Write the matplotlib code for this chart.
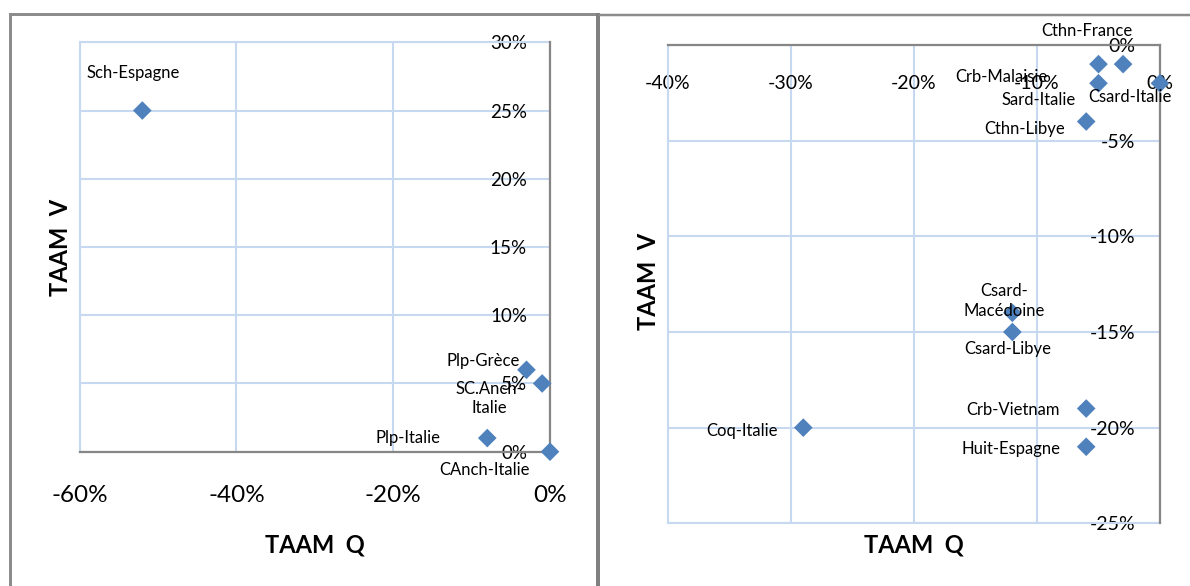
import matplotlib
matplotlib.use('Agg')
import matplotlib.pyplot as plt
from matplotlib.lines import Line2D
from matplotlib.ticker import FixedLocator, FixedFormatter

# ---------------- data ----------------
left_names = ['Sch-Espagne', 'Plp-Grèce', 'SC.Anch-\nItalie', 'Plp-Italie', 'CAnch-Italie']
left_q = [-52, -3, -1, -8, 0]          # TAAM Q (%)
left_v = [25, 6, 5, 1, 0]              # TAAM V (%)
left_xticks = [-60, -40, -20, 0]
left_xlabels = ['-60%', '-40%', '-20%', '0%']
left_yticks = [0, 5, 10, 15, 20, 25, 30]
left_ylabels = ['0%', '5%', '10%', '15%', '20%', '25%', '30%']

right_names = ['Cthn-France', 'Crb-Malaisie', 'Sard-Italie', 'Csard-Italie', 'Cthn-Libye',
               'Csard-\nMacédoine', 'Csard-Libye', 'Crb-Vietnam', 'Huit-Espagne', 'Coq-Italie']
right_q = [-3, -5, -5, 0, -6, -12, -12, -6, -6, -29]
right_v = [-1, -1, -2, -2, -4, -14, -15, -19, -21, -20]
right_xticks = [-40, -30, -20, -10, 0]
right_xlabels = ['-40%', '-30%', '-20%', '-10%', '0%']
right_yticks = [-25, -20, -15, -10, -5, 0]
right_ylabels = ['-25%', '-20%', '-15%', '-10%', '-5%', '0%']

# label offsets (pixels, from the marker; baseline of the last line)
left_offsets = [(-9, 33), (-43, 4), (-53, -30), (-79, -5), (-66, -23)]
right_offsets = [(-36, 28), (-97, -18), (-60, -22), (-30, -19), (-62, -12),
                 (-8, -3), (-5, -22), (-73, -6), (-75, -7), (-61, -8)]

# ---------------- style ----------------
W, H = 1190, 586
FONT = 'Lato'
MARKER_C = '#4F81BD'
GRID_C = '#C6D9F1'
AXIS_C = '#868686'
BORDER_C = '#8C8C8C'
LABEL_FS = 12

plt.rcParams['font.family'] = [FONT, 'DejaVu Sans']

fig = plt.figure(figsize=(W / 100, H / 100), dpi=100)
fig.patch.set_facecolor('white')


def px_axes(x0, y0, x1, y1):
    return fig.add_axes([x0 / W, 1 - y1 / H, (x1 - x0) / W, (y1 - y0) / H])


def style(ax, xlim, ylim, xt, xl, yt, yl, axis_spines, grid_spines):
    ax.set_xlim(*xlim)
    ax.set_ylim(*ylim)
    ax.xaxis.set_major_locator(FixedLocator(xt))
    ax.xaxis.set_major_formatter(FixedFormatter(xl))
    ax.yaxis.set_major_locator(FixedLocator(yt))
    ax.yaxis.set_major_formatter(FixedFormatter(yl))
    ax.grid(True, color=GRID_C, linewidth=1.5, zorder=0)
    ax.set_axisbelow(True)
    for s in axis_spines:
        ax.spines[s].set_color(AXIS_C)
        ax.spines[s].set_linewidth(1.6)
        ax.spines[s].set_zorder(3)
    for s in grid_spines:
        ax.spines[s].set_color(GRID_C)
        ax.spines[s].set_linewidth(1.5)


# ---------------- left chart ----------------
ax1 = px_axes(79.6, 42.3, 550, 451.7)
style(ax1, (-60, 0), (0, 30), left_xticks, left_xlabels, left_yticks, left_ylabels,
      ['right', 'bottom'], ['left', 'top'])
ax1.yaxis.tick_right()
ax1.tick_params(axis='y', length=0, pad=-23 * 0.72, labelsize=13.5, labelright=True, labelleft=False)
ax1.tick_params(axis='x', length=0, pad=33 * 0.72, labelsize=17.5)
for lab in ax1.get_yticklabels():
    lab.set_horizontalalignment('right')
ax1.scatter(left_q, left_v, marker='D', s=9.5 ** 2, color=MARKER_C, edgecolors='none', zorder=4,
            clip_on=False)
for name, q, v, (dx, dy) in zip(left_names, left_q, left_v, left_offsets):
    ax1.annotate(name, (q, v), xytext=(dx, dy), textcoords='offset pixels', ha='center',
                 va='baseline', fontsize=LABEL_FS, zorder=5, annotation_clip=False, linespacing=1.25)
ax1.set_xlabel('TAAM  Q', fontsize=17, fontweight='bold', va='center')
ax1.xaxis.set_label_coords(0.5, (451.7 - 545) / 409.4)
ax1.set_ylabel('TAAM  V', fontsize=17, fontweight='bold', va='center')
ax1.yaxis.set_label_coords((61 - 79.6) / 470.4, 0.5)

# ---------------- right chart ----------------
ax2 = px_axes(668, 45, 1160, 523.3)
style(ax2, (-40, 0), (-25, 0), right_xticks, right_xlabels, right_yticks, right_ylabels,
      ['right', 'top'], ['left', 'bottom'])
ax2.yaxis.tick_right()
ax2.xaxis.tick_top()
ax2.tick_params(axis='y', length=0, pad=-25 * 0.72, labelsize=14, labelright=True, labelleft=False)
ax2.tick_params(axis='x', length=0, pad=-30 * 0.72, labelsize=14, labeltop=True, labelbottom=False)
for lab in ax2.get_yticklabels():
    lab.set_horizontalalignment('right')
for lab in ax2.get_xticklabels():
    lab.set_verticalalignment('top')
ax2.scatter(right_q, right_v, marker='D', s=9.5 ** 2, color=MARKER_C, edgecolors='none', zorder=4,
            clip_on=False)
for name, q, v, (dx, dy) in zip(right_names, right_q, right_v, right_offsets):
    ax2.annotate(name, (q, v), xytext=(dx, dy), textcoords='offset pixels', ha='center',
                 va='baseline', fontsize=LABEL_FS, zorder=5, annotation_clip=False, linespacing=1.3)
ax2.xaxis.set_label_position('bottom')
ax2.set_xlabel('TAAM  Q', fontsize=17, fontweight='bold', va='center')
ax2.xaxis.set_label_coords(0.5, (523.3 - 545) / 478.3)
ax2.set_ylabel('TAAM  V', fontsize=17, fontweight='bold', va='center')
ax2.yaxis.set_label_coords((649 - 668) / 492, (523.3 - 281) / 478.3)


# ---------------- panel borders ----------------
def fline(xs, ys, lw, color):
    fig.add_artist(Line2D([x / W for x in xs], [1 - y / H for y in ys], lw=lw * 0.72,
                          color=color, solid_capstyle='butt', solid_joinstyle='miter'))


fline([9.5, 9.5, 596], [586, 13.5, 13.5], 3, BORDER_C)
fline([597.5, 597.5], [13, 586], 4, '#808080')
fline([599, 1190], [15, 15], 2.5, BORDER_C)

fig.savefig('out.png', dpi=100, facecolor='white')
